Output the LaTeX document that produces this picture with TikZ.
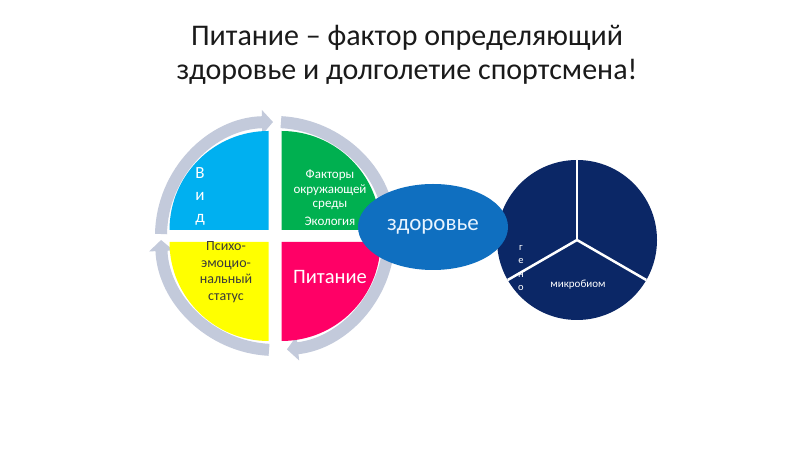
\documentclass[tikz,border=0pt]{standalone}
\usepackage{fontspec}
\setmainfont{Carlito}
\usetikzlibrary{arrows.meta,shapes.geometric}
\definecolor{qblue}{HTML}{00B0F0}
\definecolor{qgreen}{HTML}{00B050}
\definecolor{qyellow}{HTML}{FFFF00}
\definecolor{qpink}{HTML}{FF0066}
\definecolor{ellc}{HTML}{0F6FC0}
\definecolor{navyc}{HTML}{0B2766}
\definecolor{ringc}{HTML}{C3CADB}
\definecolor{titlec}{HTML}{1A1A1A}
\definecolor{psyc}{HTML}{3A3A3A}
\definecolor{zdc}{HTML}{E8F4FF}
\tikzset{
  ringseg/.style={draw=ringc, line width=12pt, -{Triangle[length=11pt,width=24pt]}},
  lbl/.style={inner sep=0pt, align=center},
}
\begin{document}
\begin{tikzpicture}[x=1pt,y=1pt]
\useasboundingbox (0,0) rectangle (800,449);
\fill[white] (0,0) rectangle (800,449);
% title
\node[lbl, text=titlec, font=\fontsize{30}{34}\selectfont] (title) at (407,394)
  {Питание – фактор определяющий\\здоровье и долголетие спортсмена!};
% ring
\coordinate (C) at (275,213);
\draw[ringseg] (C) ++(179:114) arc[start angle=179,end angle=91,radius=114];
\draw[ringseg] (C) ++(87:114) arc[start angle=87,end angle=2,radius=114];
\draw[ringseg] (C) ++(-3:114) arc[start angle=-3,end angle=-84,radius=114];
\draw[ringseg] (C) ++(-93:114) arc[start angle=-93,end angle=-178,radius=114];
% quadrants
\fill[qblue] (268.5,219) -- ++(180:99) arc[start angle=180,end angle=90,radius=99] -- cycle;
\fill[qgreen] (281.5,219) -- ++(90:99) arc[start angle=90,end angle=0,radius=99] -- cycle;
\fill[qyellow] (268.5,207) -- ++(270:99) arc[start angle=270,end angle=180,radius=99] -- cycle;
\fill[qpink] (281.5,207) -- ++(0:99) arc[start angle=0,end angle=-90,radius=99] -- cycle;
% quadrant texts
\node[lbl, text=white, font=\fontsize{17}{22}\selectfont] (vid) at (200,253) {В\\и\\д};
\node[lbl, text=white, font=\fontsize{13}{14.5}\selectfont] (env) at (330,251)
  {Факторы\\окружающей\\среды\\[3.5pt]Экология};
\node[lbl, text=psyc, font=\fontsize{14}{16.5}\selectfont] (psy) at (226,177)
  {Психо-\\эмоцио-\\нальный\\статус};
\node[lbl, text=white, font=\fontsize{20.5}{24}\selectfont] (pit) at (330,172) {Питание};
% dark circle
\fill[navyc] (577,209) circle (80);
\draw[white, line width=2.5pt] (577,209) -- ++(90:80);
\draw[white, line width=2.5pt] (577,209) -- ++(-30:80);
\draw[white, line width=2.5pt] (577,209) -- ++(210:80);
\node[lbl, text=white, font=\fontsize{10.5}{13.3}\selectfont] (gen) at (521,181) {г\\е\\н\\о};
\node[lbl, text=white, font=\fontsize{11}{13}\selectfont] (mik) at (578,164) {микробиом};
% ellipse
\node[ellipse, fill=ellc, minimum width=150pt, minimum height=86pt, inner sep=0pt,
  text=zdc, font=\fontsize{23}{26}\selectfont] (zd) at (433,222) {здоровье};
\end{tikzpicture}
\end{document}
